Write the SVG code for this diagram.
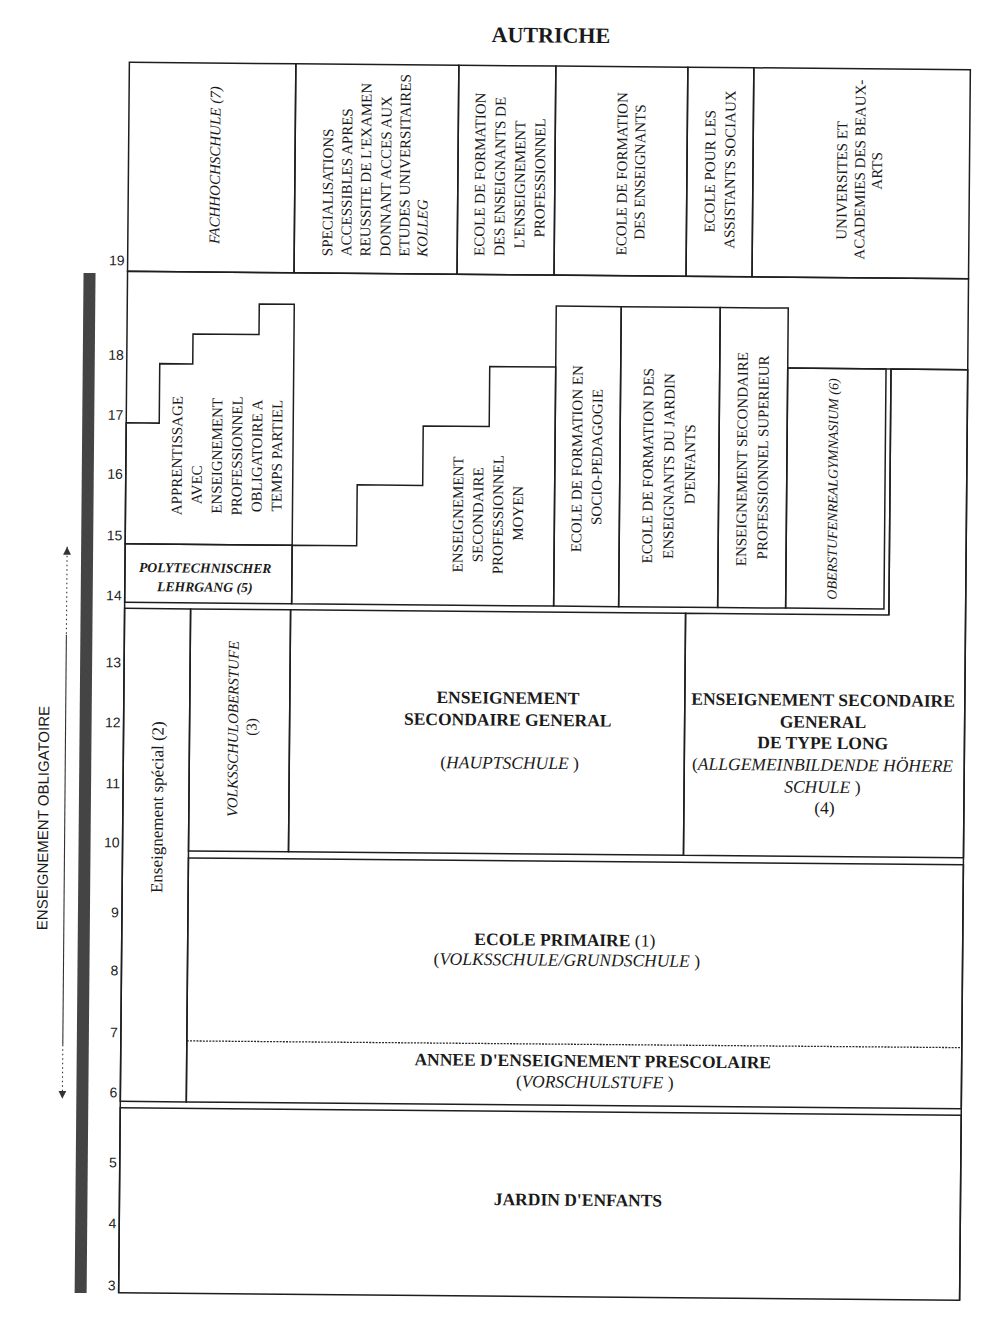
<svg xmlns="http://www.w3.org/2000/svg" width="982" height="1328" viewBox="0 0 982 1328">
  <defs>
    <style>
      .box{fill:none;stroke:#1e1e1e;stroke-width:1.5}
      .dash{fill:none;stroke:#2a2a2a;stroke-width:1.3;stroke-dasharray:2 1.2}
      .t{font-family:"Liberation Serif","Times New Roman",serif;fill:#1a1a1a}
      .v{font-size:15px;text-anchor:middle}
      .vs{font-size:15px;text-anchor:start}
      .it{font-style:italic}
      .b{font-weight:bold}
      .h{font-size:17.5px;text-anchor:middle}
      .num{font-family:"Liberation Sans",Arial,sans-serif;font-size:14px;fill:#222;text-anchor:end}
      .arr{fill:none;stroke:#333;stroke-width:1.1}
      .arr-dot{fill:none;stroke:#333;stroke-width:1.1;stroke-dasharray:1.5 3}
    </style>
    <marker id="head" viewBox="0 0 8 8" refX="8" refY="4" markerWidth="8" markerHeight="8" markerUnits="userSpaceOnUse" orient="auto-start-reverse">
      <path d="M0,0 L8,4 L0,8 Z" fill="#333"/>
    </marker>
  </defs>

  <rect width="982" height="1328" fill="#ffffff"/>

  <!-- the whole chart sits at a slight tilt -->
  <g transform="rotate(0.5 545 680)">

    <text id="title" class="t b" x="545.3" y="42.5" font-size="22" text-anchor="middle" fill="#333">AUTRICHE</text>

    <!-- age scale -->
    <g id="ages" class="num">
      <text x="121" y="269">19</text>
      <text x="121" y="363.5">18</text>
      <text x="121" y="423.5">17</text>
      <text x="121" y="482.5">16</text>
      <text x="121" y="544">15</text>
      <text x="121" y="604">14</text>
      <text x="121" y="671">13</text>
      <text x="121" y="731">12</text>
      <text x="121" y="792">11</text>
      <text x="121" y="851">10</text>
      <text x="121" y="921">9</text>
      <text x="121" y="979">8</text>
      <text x="121" y="1041">7</text>
      <text x="121" y="1101">6</text>
      <text x="121" y="1171">5</text>
      <text x="121" y="1232">4</text>
      <text x="121" y="1294">3</text>
    </g>

    <!-- compulsory schooling band -->
    <g id="obligatoire">
      <rect x="80" y="277" width="12" height="1020" fill="#444"/>
      <text transform="rotate(-90)" x="-822.4" y="49.5" font-size="15" text-anchor="middle" fill="#1a1a1a" style="font-family:'Liberation Sans',Arial,sans-serif">ENSEIGNEMENT OBLIGATOIRE</text>
    </g>

    <g id="connectors">
      <path class="arr-dot" d="M66,551 V639" marker-start="url(#head)"/>
      <path class="arr" d="M66,639 V1049"/>
      <path class="arr-dot" d="M66,1049 V1103" marker-end="url(#head)"/>
    </g>

    <!-- tertiary level -->
    <g id="fachhochschule">
      <rect class="box" x="124" y="66" width="166.5" height="209"/>
      <text class="t v it" transform="rotate(-90)"><tspan x="-168" y="215.5">FACHHOCHSCHULE (7)</tspan></text>
    </g>
    <g id="specialisations">
      <rect class="box" x="290.5" y="66" width="163" height="209"/>
      <text class="t vs" transform="rotate(-90)">
        <tspan x="-258" y="328.5">SPECIALISATIONS</tspan>
        <tspan x="-258" y="347.5">ACCESSIBLES APRES</tspan>
        <tspan x="-258" y="366.5">REUSSITE DE L'EXAMEN</tspan>
        <tspan x="-258" y="386.5">DONNANT ACCES AUX</tspan>
        <tspan x="-258" y="405.5">ETUDES UNIVERSITAIRES</tspan>
        <tspan x="-258" y="423.5" class="it">KOLLEG</tspan>
      </text>
    </g>
    <g id="formation-prof">
      <rect class="box" x="453.5" y="66" width="97" height="209"/>
      <text class="t v" transform="rotate(-90)">
        <tspan x="-173" y="480.5">ECOLE DE FORMATION</tspan>
        <tspan x="-175" y="500.5">DES ENSEIGNANTS DE</tspan>
        <tspan x="-183" y="520.5">L'ENSEIGNEMENT</tspan>
        <tspan x="-178" y="540.5">PROFESSIONNEL</tspan>
      </text>
    </g>
    <g id="formation-enseignants">
      <rect class="box" x="550.5" y="66" width="132" height="209"/>
      <text class="t v" transform="rotate(-90)">
        <tspan x="-171.3" y="622.5">ECOLE DE FORMATION</tspan>
        <tspan x="-171.3" y="640.5">DES ENSEIGNANTS</tspan>
      </text>
    </g>
    <g id="assistants-sociaux">
      <rect class="box" x="682.5" y="66" width="66" height="209"/>
      <text class="t v" transform="rotate(-90)">
        <tspan x="-168" y="710.5">ECOLE POUR LES</tspan>
        <tspan x="-168" y="730.5">ASSISTANTS SOCIAUX</tspan>
      </text>
    </g>
    <g id="universites">
      <rect class="box" x="748.5" y="66" width="216.5" height="209"/>
      <text class="t v" transform="rotate(-90)">
        <tspan x="-176" y="842.5">UNIVERSITES ET</tspan>
        <tspan x="-165" y="860.5">ACADEMIES DES BEAUX-</tspan>
        <tspan x="-168" y="877.5">ARTS</tspan>
      </text>
    </g>

    <!-- upper secondary level -->
    <g id="cadre-secondaire-sup">
      <path class="box" d="M124,1296.5 V275 H965 V1296.5"/>
      <path class="box" d="M785,366 H965"/>
    </g>
    <g id="apprentissage">
      <path class="box" d="M124,547.5 V426.5 H157 V367 H190 V337 H256 V306.5 H291 V547.5 Z"/>
      <text class="t v" transform="rotate(-90)">
        <tspan x="-457" y="180">APPRENTISSAGE</tspan>
        <tspan x="-486" y="200">AVEC</tspan>
        <tspan x="-457" y="220">ENSEIGNEMENT</tspan>
        <tspan x="-457" y="240">PROFESSIONNEL</tspan>
        <tspan x="-457" y="260">OBLIGATOIRE A</tspan>
        <tspan x="-458" y="280">TEMPS PARTIEL</tspan>
      </text>
    </g>
    <g id="polytechnischer">
      <rect class="box" x="124" y="547.5" width="167" height="58.5"/>
      <text class="t b it" font-size="13.7" text-anchor="middle">
        <tspan x="206" y="575.6">POLYTECHNISCHER</tspan>
        <tspan x="204" y="594.6">LEHRGANG (5)</tspan>
      </text>
    </g>
    <g id="professionnel-moyen">
      <path class="box" d="M291,606 V547.5 H355.5 V486.5 H421 V427 H487 V367 H553 V606 Z"/>
      <text class="t v" transform="rotate(-90)">
        <tspan x="-513.5" y="461.5">ENSEIGNEMENT</tspan>
        <tspan x="-513.5" y="481.5">SECONDAIRE</tspan>
        <tspan x="-513.5" y="501.5">PROFESSIONNEL</tspan>
        <tspan x="-513.5" y="521.5">MOYEN</tspan>
      </text>
    </g>
    <g id="socio-pedagogie">
      <rect class="box" x="553" y="306" width="65" height="300"/>
      <text class="t v" transform="rotate(-90)">
        <tspan x="-456.6" y="580">ECOLE DE FORMATION EN</tspan>
        <tspan x="-456.6" y="600">SOCIO-PEDAGOGIE</tspan>
      </text>
    </g>
    <g id="jardin-enseignants">
      <rect class="box" x="618" y="306" width="99" height="300"/>
      <text class="t v" transform="rotate(-90)">
        <tspan x="-463" y="651">ECOLE DE FORMATION DES</tspan>
        <tspan x="-463" y="672">ENSEIGNANTS DU JARDIN</tspan>
        <tspan x="-463" y="693">D'ENFANTS</tspan>
      </text>
    </g>
    <g id="professionnel-superieur">
      <rect class="box" x="717" y="306" width="68" height="300"/>
      <text class="t v" transform="rotate(-90)">
        <tspan x="-455.5" y="745">ENSEIGNEMENT SECONDAIRE</tspan>
        <tspan x="-455.5" y="766">PROFESSIONNEL SUPERIEUR</tspan>
      </text>
    </g>
    <g id="oberstufenrealgymnasium">
      <rect class="box" x="785" y="366" width="98.3" height="240"/>
      <path class="box" d="M888.3,366 V612"/>
      <text class="t it" transform="rotate(-90)" font-size="14" text-anchor="middle"><tspan x="-486.5" y="835.7">OBERSTUFENREALGYMNASIUM (6)</tspan></text>
    </g>

    <!-- lower secondary level -->
    <g id="enseignement-special">
      <rect class="box" x="124" y="612" width="66" height="493"/>
      <text class="t" transform="rotate(-90)" font-size="17" text-anchor="middle"><tspan x="-810.5" y="164">Enseignement spécial (2)</tspan></text>
    </g>
    <g id="volksschuloberstufe">
      <rect class="box" x="190" y="612" width="100" height="242"/>
      <text class="t" transform="rotate(-90)" font-size="15" text-anchor="middle">
        <tspan x="-729.7" y="238.4" font-style="italic">VOLKSSCHULOBERSTUFE</tspan>
        <tspan x="-729.5" y="257">(3)</tspan>
      </text>
    </g>
    <g id="hauptschule">
      <rect class="box" x="290" y="612" width="395" height="242"/>
      <text class="t h">
        <tspan x="510.3" y="704" class="b">ENSEIGNEMENT</tspan>
        <tspan x="510.3" y="726" class="b">SECONDAIRE GENERAL</tspan>
        <tspan x="510.3" y="769">(<tspan class="it">HAUPTSCHULE</tspan> )</tspan>
      </text>
    </g>
    <g id="type-long">
      <path class="box" d="M685,854 V612 H888.3 V366 H965 V854 Z"/>
      <text class="t h">
        <tspan x="825.5" y="703.4" class="b">ENSEIGNEMENT SECONDAIRE</tspan>
        <tspan x="825.5" y="725.4" class="b">GENERAL</tspan>
        <tspan x="825.5" y="746.4" class="b">DE TYPE LONG</tspan>
        <tspan x="825.5" y="768.4">(<tspan class="it">ALLGEMEINBILDENDE HÖHERE</tspan></tspan>
        <tspan x="825.5" y="790.4"><tspan class="it">SCHULE</tspan> )</tspan>
        <tspan x="825.5" y="811.4">(4)</tspan>
      </text>
    </g>

    <!-- primary and pre-school level -->
    <g id="ecole-primaire">
      <rect class="box" x="190" y="861" width="775" height="244"/>
      <text class="t h">
        <tspan x="569.3" y="945.6"><tspan class="b">ECOLE PRIMAIRE</tspan> (1)</tspan>
        <tspan x="569.3" y="965.6">(<tspan class="it">VOLKSSCHULE/GRUNDSCHULE</tspan> )</tspan>
      </text>
    </g>
    <g id="prescolaire">
      <path class="dash" d="M190,1044 H965"/>
      <text class="t h">
        <tspan x="598.3" y="1066.4" class="b">ANNEE D'ENSEIGNEMENT PRESCOLAIRE</tspan>
        <tspan x="598.3" y="1087.4">(<tspan class="it">VORSCHULSTUFE</tspan> )</tspan>
      </text>
    </g>
    <g id="jardin-enfants">
      <rect class="box" x="124" y="1111.5" width="841" height="185"/>
      <text class="t h b" x="582.5" y="1205.5">JARDIN D'ENFANTS</text>
    </g>
  </g>
</svg>
